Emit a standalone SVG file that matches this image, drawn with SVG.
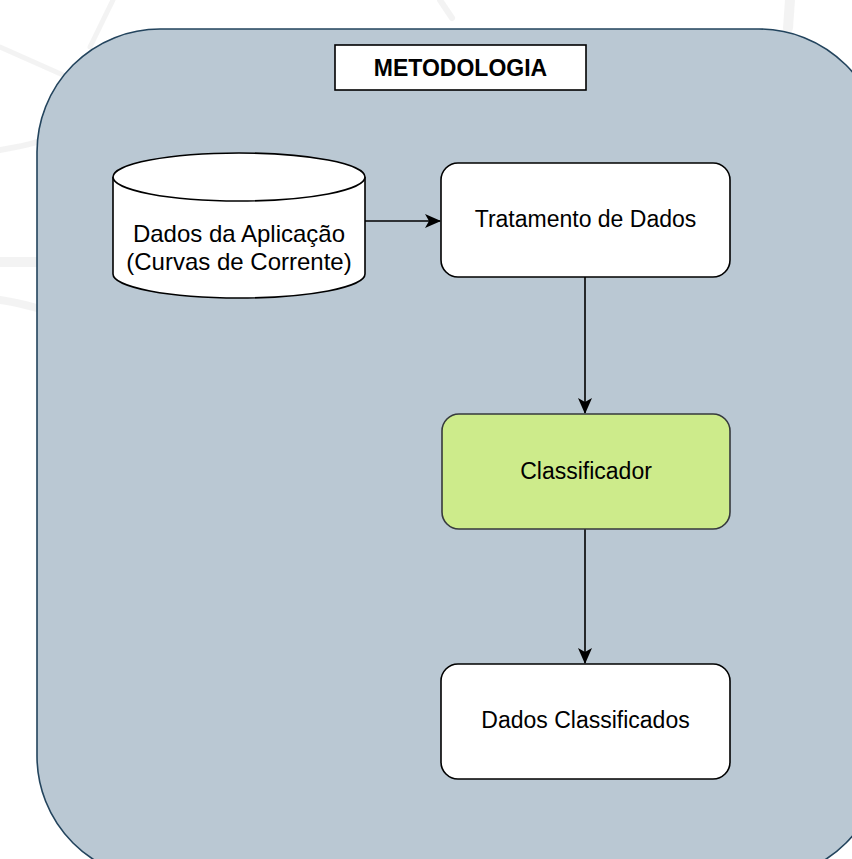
<svg xmlns="http://www.w3.org/2000/svg" width="852" height="859" viewBox="0 0 852 859">
  <style>
    .lbl { font-family: "Liberation Sans", Arial, sans-serif; font-size: 23px; fill: #000; text-anchor: middle; }
    .node { fill: #ffffff; stroke: #000; stroke-width: 1.6; }
    .edge { fill: none; stroke: #000; stroke-width: 1.6; }
    .wm { fill: none; stroke: #e4e4e4; stroke-linecap: round; opacity: 0.45; }
  </style>
  <defs>
    <marker id="arrow" viewBox="0 0 16 14" refX="15" refY="7" markerWidth="16" markerHeight="14" markerUnits="userSpaceOnUse" orient="auto">
      <path d="M0,0 L16,7 L0,14 L4,7 Z" fill="#000"/>
    </marker>
  </defs>
  <rect width="852" height="859" fill="#ffffff"/>
  <g id="watermark">
    <path class="wm" stroke-width="5" d="M113,0 L90,47"/>
    <path class="wm" stroke-width="5" d="M0,47 L63,75"/>
    <path class="wm" stroke-width="6" d="M0,150 C12,148 24,146 37,142"/>
    <path class="wm" stroke-width="10" d="M0,262 C14,262 26,262 37,262"/>
    <path class="wm" stroke-width="8" d="M0,300 C14,302 26,305 37,308"/>
    <path class="wm" stroke-width="6" d="M440,0 L452,18"/>
    <path class="wm" stroke-width="10" d="M790,0 L788,28"/>
  </g>
  <g id="container">
    <rect x="37" y="29" width="845" height="850" rx="123" ry="123" fill="#bac8d3" stroke="#23445d" stroke-width="1.6"/>
  </g>
  <g id="title">
    <rect x="335" y="45" width="251" height="45" fill="#ffffff" stroke="#000" stroke-width="1.6"/>
    <text x="460.5" y="76" class="lbl" style="font-weight:bold;font-size:23px">METODOLOGIA</text>
  </g>
  <g id="connectors">
    <path class="edge" d="M365,221 L440,221" marker-end="url(#arrow)"/>
    <path class="edge" d="M585,277 L585,413" marker-end="url(#arrow)"/>
    <path class="edge" d="M585,529 L585,663" marker-end="url(#arrow)"/>
  </g>
  <g id="dados-aplicacao">
    <path class="node" d="M113,177 A126,24 0 0 1 365,177 L365,274 A126,24 0 0 1 113,274 Z"/>
    <path class="node" fill="none" d="M113,177 A126,24 0 0 0 365,177"/>
    <text x="239" y="242" class="lbl" style="font-size:24px">Dados da Aplicação</text>
    <text x="239" y="270" class="lbl" style="font-size:24px">(Curvas de Corrente)</text>
  </g>
  <g id="tratamento">
    <rect x="441" y="163" width="289" height="114" rx="17" ry="17" class="node"/>
    <text x="585.5" y="227" class="lbl">Tratamento de Dados</text>
  </g>
  <g id="classificador">
    <rect x="442" y="414" width="288" height="115" rx="17" ry="17" fill="#cdeb8b" stroke="#36393d" stroke-width="1.6"/>
    <text x="586" y="479" class="lbl">Classificador</text>
  </g>
  <g id="dados-classificados">
    <rect x="441" y="664" width="289" height="115" rx="17" ry="17" class="node"/>
    <text x="585.5" y="728" class="lbl">Dados Classificados</text>
  </g>
</svg>
